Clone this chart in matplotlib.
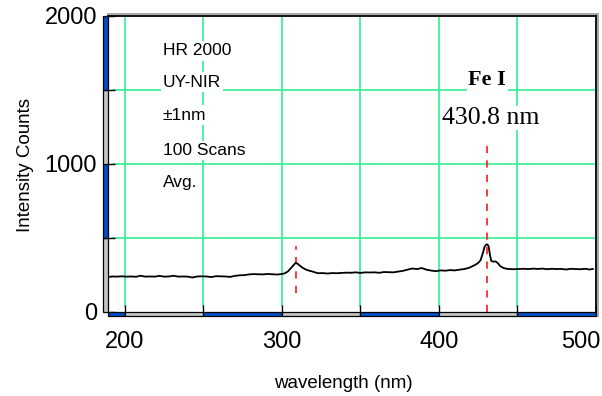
import matplotlib
matplotlib.use("Agg")
import matplotlib.pyplot as plt
from matplotlib.patches import Rectangle
from matplotlib.lines import Line2D
from matplotlib.ticker import MultipleLocator, FuncFormatter
import matplotlib.transforms as mtransforms

# ---- data ---------------------------------------------------------------
wavelength = [189, 192, 195, 198, 201, 204, 207, 210, 213, 216, 219, 222, 225,
              228, 231, 234, 237, 240, 243, 246, 249, 252, 255, 258, 261, 264,
              267, 270, 273, 276, 279, 282, 285, 288, 291, 294, 297, 300, 302,
              304, 306, 307.5, 308.7, 310, 311.5, 313, 315, 317, 319, 321, 323,
              326, 329, 332, 335, 338, 341, 344, 347, 350, 353, 356, 359, 362,
              365, 368, 371, 374, 377, 380, 383, 386, 389, 392, 395, 398, 401,
              404, 407, 410, 413, 416, 419, 421, 423, 425, 426.5, 428, 429, 430,
              430.8, 431.6, 432.4, 433.3, 434.5, 436, 437.5, 439, 441, 443, 445,
              448, 451, 454, 457, 460, 463, 466, 469, 472, 475, 478, 481, 484,
              487, 490, 493, 496, 498]
counts = [236, 240, 239, 241, 239, 240, 238, 245, 239, 240, 239, 244, 239,
          240, 245, 239, 240, 239, 233, 240, 241, 240, 236, 242, 241, 240,
          237, 244, 248, 249, 254, 256, 255, 254, 257, 255, 253, 257, 262,
          276, 300, 318, 332, 326, 312, 300, 288, 280, 275, 268, 262,
          263, 260, 263, 262, 264, 266, 265, 268, 264, 268, 267, 268, 265,
          270, 269, 268, 273, 278, 286, 294, 290, 297, 286, 280, 276, 281,
          279, 283, 281, 286, 290, 298, 308, 318, 332, 350, 400, 440, 455,
          457, 445, 390, 345, 340, 342, 330, 310, 298, 292, 290,
          289, 291, 292, 290, 293, 291, 293, 289, 292, 290, 291, 287, 292,
          290, 289, 292, 287, 291]

# marker lines for the emission lines
line_wl = [308.7, 430.8]
line_lo = [130, 0]
line_hi = [445, 1160]

info_lines = ["HR 2000", "UY-NIR", "\u00b11nm", "100 Scans", "Avg."]
info_y = [1764, 1554, 1331, 1091, 872]
info_x = 224

x_ticks = [200, 250, 300, 350, 400, 450, 500]
y_ticks = [0, 500, 1000, 1500, 2000]
x_min, x_max = 188.9, 500
y_min, y_max = 0, 2000

# ---- styling ------------------------------------------------------------
plt.rcParams['font.family'] = ['Liberation Sans', 'DejaVu Sans']
GRID = '#30f090'
BLUE = '#0050c8'
GRAY = '#c4c4c4'
SHADOW = '#a8a8a8'
SERIF = ['Liberation Serif', 'DejaVu Serif']

W, H = 602, 396
fig = plt.figure(figsize=(W / 100, H / 100), dpi=100)
fig.patch.set_facecolor('white')

ax_l, ax_r, ax_t, ax_b = 107.5, 596, 16, 312
ax = fig.add_axes([ax_l / W, 1 - ax_b / H, (ax_r - ax_l) / W, (ax_b - ax_t) / H])
ax.set_xlim(x_min, x_max)
ax.set_ylim(y_min, y_max)

for s in ['left', 'bottom']:
    ax.spines[s].set_visible(False)
for s in ['top', 'right']:
    ax.spines[s].set_linewidth(1.3)
    ax.spines[s].set_color('black')

# grid lines (kept short of the left / bottom edges)
xt = ax.get_xaxis_transform()
yt = ax.get_yaxis_transform()
for xv in x_ticks[:-1]:
    ax.plot([xv, xv], [0.02, 1], transform=xt, color=GRID, lw=1.2, zorder=1)
for yv in y_ticks[1:-1]:
    ax.plot([0.012, 1], [yv, yv], transform=yt, color=GRID, lw=1.2, zorder=1)

# ticks
ax.xaxis.set_major_locator(MultipleLocator(50))
ax.yaxis.set_major_locator(MultipleLocator(500))
ax.xaxis.set_major_formatter(FuncFormatter(lambda v, p: f"{v:.0f}" if round(v) % 100 == 0 else ""))
ax.yaxis.set_major_formatter(FuncFormatter(lambda v, p: f"{v:.0f}" if round(v) % 1000 == 0 else ""))
ax.tick_params(axis='both', direction='in', length=5, width=1, color='black',
               labelsize=17, top=False, right=False)
ax.tick_params(axis='x', pad=14)
ax.tick_params(axis='y', pad=7.5)

fig.canvas.draw()
for lab in ax.get_xticklabels():
    if lab.get_text() == "500":
        lab.set_horizontalalignment('right')
        lab.set_transform(lab.get_transform() +
                          mtransforms.ScaledTranslation(4 / 100, 0, fig.dpi_scale_trans))

# two-tone axis bars on left and bottom
bar_w = 5 / (ax_r - ax_l)
bar_h = 4 / (ax_b - ax_t)
y_cols = [GRAY, BLUE, GRAY, BLUE]
for i, c in enumerate(y_cols):
    ax.add_patch(Rectangle((-bar_w, y_ticks[i]), bar_w, y_ticks[i + 1] - y_ticks[i],
                           transform=yt, facecolor=c, edgecolor='black', lw=0.9,
                           clip_on=False, zorder=5))
x_edges = [x_min] + x_ticks
x_cols = [BLUE, GRAY, BLUE, GRAY, BLUE, GRAY, BLUE]
for i, c in enumerate(x_cols):
    ax.add_patch(Rectangle((x_edges[i], -bar_h), x_edges[i + 1] - x_edges[i], bar_h,
                           transform=xt, facecolor=c, edgecolor='black', lw=0.9,
                           clip_on=False, zorder=5))

# soft shadow along top and right frame
fig.add_artist(Line2D([ax_l / W, (ax_r + 2) / W], [1 - (ax_t - 2) / H] * 2,
                      color=SHADOW, lw=1.4))
fig.add_artist(Line2D([(ax_r + 2) / W] * 2, [1 - (ax_t - 2) / H, 1 - (ax_b + 4) / H],
                      color=SHADOW, lw=1.4))

# spectrum
ax.plot(wavelength, counts, color='black', lw=1.3, zorder=4)

# emission line markers
for wl, lo, hi in zip(line_wl, line_lo, line_hi):
    ax.plot([wl, wl], [lo, hi], color='#ff2a2a', lw=1.3, ls=(0, (4, 4)), zorder=3)

# instrument info block
for txt, yv in zip(info_lines, info_y):
    ax.text(info_x, yv, txt, fontsize=12.5, ha='left', va='center', zorder=6,
            bbox=dict(facecolor='white', edgecolor='none', pad=1.5))

ax.text(430.8, 1568, "Fe I", family=SERIF, fontweight='bold', fontsize=16,
        ha='center', va='center', zorder=6,
        bbox=dict(facecolor='white', edgecolor='none', pad=1.0))
ax.text(433, 1311, "430.8 nm", family=SERIF, fontsize=18.5,
        ha='center', va='center', zorder=6,
        bbox=dict(facecolor='white', edgecolor='none', pad=1.0))

# axis titles
fig.text(25.5 / W, 1 - 165 / H, "Intensity Counts", rotation=90,
         ha='center', va='center', fontsize=13.5)
fig.text(343 / W, 1 - 383 / H, "wavelength (nm)", ha='center', va='center',
         fontsize=13.5)

fig.savefig("out.png", dpi=100, facecolor='white')
